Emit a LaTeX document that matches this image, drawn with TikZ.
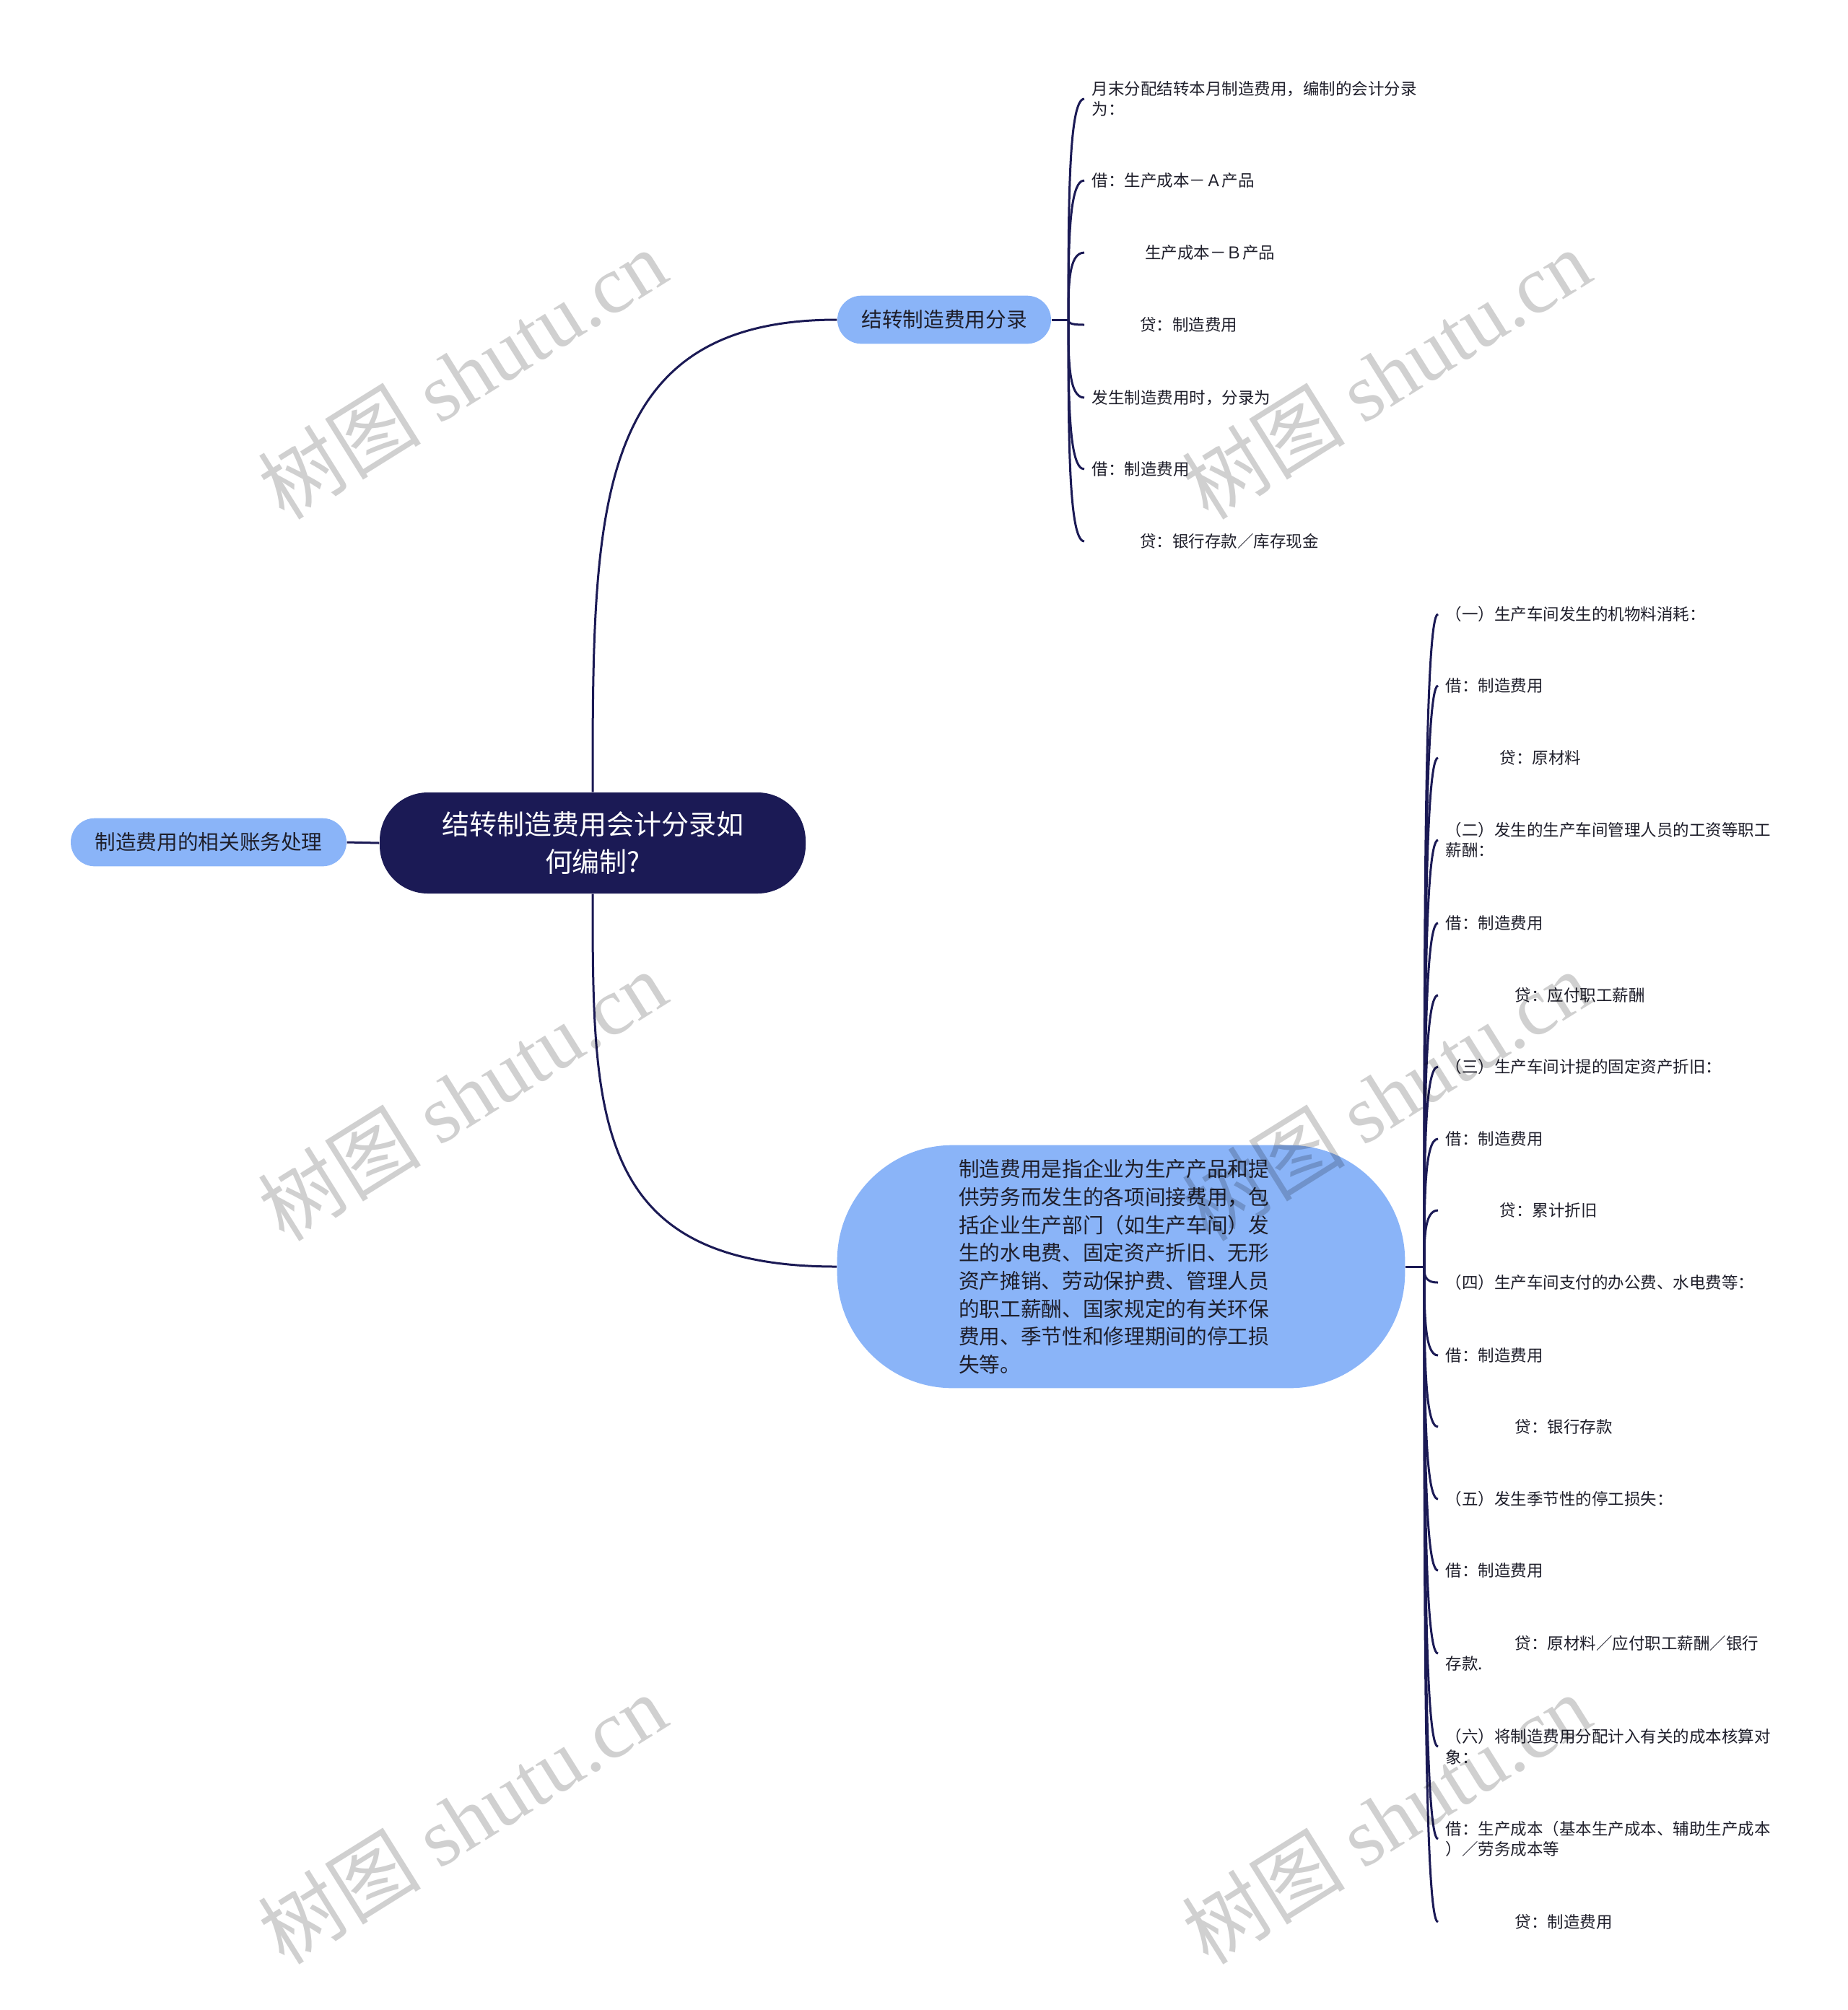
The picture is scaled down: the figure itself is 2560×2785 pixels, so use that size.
\documentclass[tikz,border=0pt]{standalone}
\usepackage{fontspec}
\setmainfont{Noto Sans CJK SC}
\newfontfamily\wmfont{Liberation Serif}
\usepackage{tikz}
\usetikzlibrary{calc}
\usepackage{xcolor}
\definecolor{navy}{HTML}{1B1A55}
\definecolor{sky}{HTML}{8AB4F8}
\definecolor{ink}{HTML}{1E1E2A}
\definecolor{wmgray}{HTML}{D0D0D0}

\begin{document}
\begin{tikzpicture}[x = 0.3pt, y = -0.3pt,
            conn/.style = {navy, line width = 0.9pt},
            rootnode/.style = {fill = navy, text = white, rounded corners = 20pt,
                minimum width = 177pt, minimum height = 42pt, align = center,
                font = \fontsize{11.4pt}{15.5pt}\selectfont},
            topic/.style = {fill = sky, text = ink, rounded corners = 10pt,
                minimum height = 20pt, inner xsep = 10pt,
                font = \fontsize{8.6pt}{11.6pt}\selectfont},
            leaf/.style = {anchor = west, inner xsep = 3pt, inner ysep = 1pt,
                align = left, text = ink, font = \fontsize{6.75pt}{8.5pt}\selectfont},
            wm/.style = {rotate = 32, text = wmgray,
                font = \fontsize{34pt}{34pt}\selectfont}]
            \useasboundingbox (0,0) rectangle (2560,2785);
            \coordinate (u) at (1480,443);
            \coordinate (l) at (1973,1755);
            \node[rootnode] (root) at (821,1168) {结转制造费用会计分录如\\何编制?};
            \node[topic] (side) at (289,1167) {制造费用的相关账务处理};
            \node[topic] (br) at (1308,443) {结转制造费用分录};
            \node[topic, rounded corners = 48pt, minimum width = 236pt, minimum height = 101pt,
                text width = 135pt, align = left] (big) at (1553,1755)
                {制造费用是指企业为生产产品和提\\供劳务而发生的各项间接费用，包\\括企业生产部门（如生产车间）发\\生的水电费、固定资产折旧、无形\\资产摊销、劳动保护费、管理人员\\的职工薪酬、国家规定的有关环保\\费用、季节性和修理期间的停工损\\失等。};
            \node[leaf] (u1) at (1502,137) {月末分配结转本月制造费用，编制的会计分录\\为：};
            \node[leaf] (u2) at (1502,250) {借：生产成本－Ａ产品};
            \node[leaf] (u3) at (1502,350) {\hspace*{22pt}生产成本－Ｂ产品};
            \node[leaf] (u4) at (1502,450) {\hspace*{20pt}贷：制造费用};
            \node[leaf] (u5) at (1502,551) {发生制造费用时，分录为};
            \node[leaf] (u6) at (1502,650) {借：制造费用};
            \node[leaf] (u7) at (1502,750) {\hspace*{20pt}贷：银行存款／库存现金};
            \node[leaf] (d1) at (1992,851) {（一）生产车间发生的机物料消耗：};
            \node[leaf] (d2) at (1992,950) {借：制造费用};
            \node[leaf] (d3) at (1992,1050) {\hspace*{22.5pt}贷：原材料};
            \node[leaf] (d4) at (1992,1164) {（二）发生的生产车间管理人员的工资等职工\\薪酬：};
            \node[leaf] (d5) at (1992,1279) {借：制造费用};
            \node[leaf] (d6) at (1992,1379) {\hspace*{28.8pt}贷：应付职工薪酬};
            \node[leaf] (d7) at (1992,1478) {（三）生产车间计提的固定资产折旧：};
            \node[leaf] (d8) at (1992,1578) {借：制造费用};
            \node[leaf] (d9) at (1992,1677) {\hspace*{22.5pt}贷：累计折旧};
            \node[leaf] (d10) at (1992,1777) {（四）生产车间支付的办公费、水电费等：};
            \node[leaf] (d11) at (1992,1878) {借：制造费用};
            \node[leaf] (d12) at (1992,1977) {\hspace*{28.8pt}贷：银行存款};
            \node[leaf] (d13) at (1992,2077) {（五）发生季节性的停工损失：};
            \node[leaf] (d14) at (1992,2176) {借：制造费用};
            \node[leaf] (d15) at (1992,2291) {\hspace*{28.8pt}贷：原材料／应付职工薪酬／银行\\存款.};
            \node[leaf] (d16) at (1992,2420) {（六）将制造费用分配计入有关的成本核算对\\象：};
            \node[leaf] (d17) at (1992,2548) {借：生产成本（基本生产成本、辅助生产成本\\）／劳务成本等};
            \node[leaf] (d18) at (1992,2663) {\hspace*{28.8pt}贷：制造费用};
            \draw[conn] (side.east) -- (root.west);
            \draw[conn] (root.north) .. controls ($(root.north)!0.6!(root.north |- br.west)$) and (root.north |- br.west) .. (br.west);
            \draw[conn] (root.south) .. controls ($(root.south)!0.6!(root.south |- big.west)$) and (root.south |- big.west) .. (big.west);
            \draw[conn] (br.east) -- (u);
            \draw[conn] (big.east) -- (l);
            \foreach \i in {1,...,7}
                \draw[conn] (u) .. controls ($(u)!0.5!(u |- u\i.west)$) and (u |- u\i.west) .. (u\i.west);
            \foreach \i in {1,...,18}
                \draw[conn] (l) .. controls ($(l)!0.5!(l |- d\i.west)$) and (l |- d\i.west) .. (d\i.west);
            \begin{scope}[blend mode = multiply]
                \node[wm] (w1) at (640,518) {树图 {\wmfont shutu.cn}};
                \node[wm] (w2) at (1920,518) {树图 {\wmfont shutu.cn}};
                \node[wm] (w3) at (640,1518) {树图 {\wmfont shutu.cn}};
                \node[wm] (w4) at (1920,1518) {树图 {\wmfont shutu.cn}};
                \node[wm] (w5) at (640,2520) {树图 {\wmfont shutu.cn}};
                \node[wm] (w6) at (1920,2520) {树图 {\wmfont shutu.cn}};
            \end{scope}
\end{tikzpicture}
\end{document}
